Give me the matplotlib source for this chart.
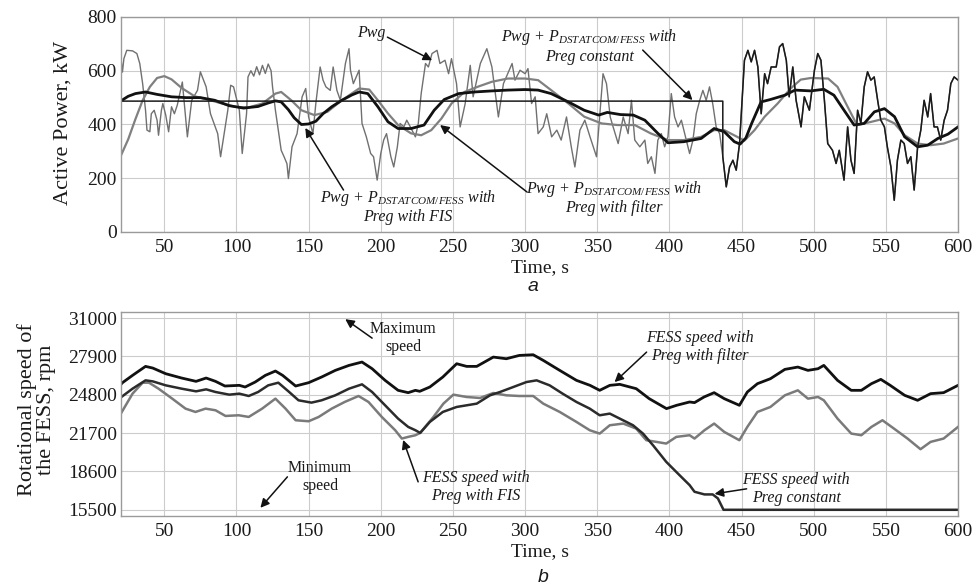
import numpy as np
import matplotlib
matplotlib.use("Agg")
import matplotlib.pyplot as plt

plt.rcParams['font.family'] = ['Liberation Serif', 'DejaVu Serif']
plt.rcParams['mathtext.fontset'] = 'custom'
plt.rcParams['mathtext.rm'] = 'Liberation Serif'
plt.rcParams['mathtext.it'] = 'Liberation Serif:italic'

# ---------------- data: panel a (active power, kW) ----------------
pwg_t = [20, 21, 22, 24, 28, 31, 33, 35, 37, 38, 40, 41, 43, 45, 46, 48, 49, 51, 53, 55, 57, 59,
         62.5, 66, 69, 73, 75, 79, 82, 87, 89, 91.5, 94, 96, 98, 102, 104, 107, 108, 110, 112, 114,
         116, 118, 120, 122, 124, 125, 127, 131, 133, 135, 136, 138.5, 142, 145.5, 148, 150, 153,
         155, 158, 160, 162, 165, 167, 169.6, 172, 175.5, 178, 179, 181, 185, 187, 190, 193, 195,
         197.5, 200, 202, 204, 207, 209, 211.5, 213.4, 216, 218, 220.5, 224, 226, 228, 231, 233,
         235.5, 239, 241, 244.5, 247, 249, 252.5, 255, 258.5, 262, 264, 269, 273.5, 277, 280,
         281.5, 285, 287, 291, 293, 296.5, 300, 302, 304.5, 307, 309, 312.6, 315, 318.4, 322, 325,
         328.7, 332, 334.5, 338, 341.4, 345, 349.5, 352, 354, 356.4, 359, 361, 364.5, 368, 371.4,
         373.7, 376, 379.5, 383, 385, 387.5, 390, 392, 394.4, 396.7, 399, 401.3, 403.6, 406, 408.3,
         410.6, 414, 416.3, 418.6, 421, 423.2, 425.5, 427.8, 430, 432.4, 434.8, 437, 439.4, 441.7,
         444, 446.3, 448.6, 452, 454.4, 456.7, 459, 461.3, 463.6, 466, 468, 470.5, 474, 476.3,
         478.5, 481, 483, 485.5, 487.8, 491.2, 493.5, 497, 500.5, 502.8, 505, 507.4, 509.7, 513,
         515.5, 517.7, 521, 523.5, 525.8, 528, 530.4, 532.7, 535, 537.3, 539.6, 541.9, 544.3,
         546.5, 549, 551, 553.5, 555.8, 558, 560.4, 562.7, 565, 567.3, 569.6, 572, 574.2, 576.5,
         579, 581, 583.4, 585.7, 588, 590.4, 592.7, 595, 597.3, 600]
pwg_p = [645, 595, 645, 676, 674, 664, 627, 552, 453, 379, 373, 440, 453, 416, 360, 453, 478, 435,
         373, 466, 440, 472, 558, 354, 490, 527, 596, 540, 440, 366, 280, 366, 453, 546, 540, 453,
         292, 440, 577, 600, 580, 615, 585, 620, 590, 625, 600, 540, 453, 304, 280, 254, 199, 317,
         366, 503, 534, 428, 366, 478, 614, 565, 540, 527, 614, 527, 490, 627, 682, 602, 552, 602,
         404, 354, 292, 280, 193, 292, 342, 366, 280, 242, 317, 404, 391, 416, 391, 354, 404, 515,
         627, 614, 664, 676, 627, 639, 589, 645, 552, 391, 478, 620, 503, 627, 682, 614, 490, 428,
         552, 577, 627, 565, 602, 589, 608, 478, 503, 366, 391, 440, 354, 379, 342, 428, 317, 242,
         379, 416, 354, 280, 453, 589, 552, 428, 391, 329, 428, 366, 490, 342, 317, 342, 255, 280,
         218, 342, 366, 317, 354, 515, 428, 391, 416, 366, 292, 342, 440, 490, 527, 490, 540, 478,
         391, 366, 280, 168, 242, 267, 230, 329, 639, 676, 633, 676, 614, 440, 589, 552, 614, 614,
         689, 701, 639, 503, 614, 490, 391, 503, 453, 602, 664, 639, 490, 329, 304, 255, 304, 193,
         391, 267, 218, 453, 404, 540, 596, 565, 577, 490, 416, 391, 317, 242, 118, 267, 342, 329,
         255, 280, 156, 317, 379, 490, 428, 515, 391, 391, 342, 416, 453, 552, 577, 565]

fis_t = [20, 25, 30, 37, 45, 55, 65, 75, 85, 95, 105, 115, 122, 127, 131, 136, 140, 145, 150, 155,
         160, 166, 173, 180, 185, 191, 198, 205, 212, 221, 230, 237, 244, 254, 265, 277, 288, 300,
         309, 318, 330, 341, 351, 357, 366, 375, 383, 392, 399, 410, 422, 431, 438, 445, 449, 453,
         457, 463.5, 470, 480, 487, 498, 507, 514, 521, 528, 535, 542, 549, 556, 563, 572, 579,
         586, 593, 600]
fis_p = [488, 505, 515, 521, 512, 503, 500, 500, 490, 470, 461, 467, 480, 488, 484, 455, 425, 400,
         402, 412, 440, 466, 490, 510, 521, 515, 466, 410, 385, 385, 398, 453, 493, 515, 521, 525,
         528, 530, 528, 515, 484, 453, 435, 445, 437, 435, 416, 367, 332, 336, 348, 385, 373, 336,
         327, 350, 404, 484, 493, 509, 528, 525, 531, 509, 453, 398, 404, 447, 459, 429, 354, 317,
         323, 348, 364, 391]

filt_t = [20, 25, 30, 35, 40, 45, 50, 55, 62, 71, 80, 90, 99, 108, 118, 127, 131, 138, 145, 154,
          163, 173, 185, 192, 198, 205, 212, 221, 228, 235, 242, 249, 258, 268, 277, 288, 300, 309,
          318, 330, 341, 353, 364, 376, 387, 399, 410, 422, 431, 438, 447, 452, 459, 466, 475, 484,
          491, 498, 510, 516.5, 523.5, 530, 540, 549, 556, 563, 572, 581, 590, 600]
filt_p = [285, 345, 420, 490, 540, 573, 580, 568, 536, 505, 493, 478, 466, 463, 478, 515, 521, 490,
          453, 435, 447, 490, 534, 530, 490, 441, 398, 367, 360, 379, 422, 478, 521, 542, 559, 571,
          571, 565, 528, 478, 429, 404, 398, 398, 367, 342, 342, 354, 379, 379, 354, 340, 379, 429,
          478, 534, 567, 573, 571, 540, 466, 398, 410, 422, 404, 360, 329, 323, 329, 348]

preg_const = 487          # kW, constant reference
const_end = 437           # s, FESS reaches minimum speed

# ---------------- data: panel b (FESS speed, rpm) ----------------
sfilt_t = [20, 21, 28, 37, 42, 51, 62, 72, 79, 85.5, 92, 102, 106, 113, 120, 127, 132, 141, 150,
           159, 168.5, 178, 187, 194, 203, 212, 219, 224, 227, 234, 243, 252.6, 259.5, 266.5, 278,
           287, 296, 305.6, 312.6, 324, 335.6, 345, 351.7, 358.7, 365.6, 377, 386, 398, 405, 414,
           417.4, 424, 431, 438, 448.5, 454, 461, 470, 480, 489, 496, 503, 507, 516.5, 526, 533,
           540, 546.5, 553, 563, 572, 581, 590, 600]
sfilt_v = [25650, 25781, 26373, 27100, 26965, 26507, 26158, 25889, 26158, 25889, 25512, 25566,
           25431, 25835, 26373, 26723, 26373, 25512, 25781, 26239, 26777, 27180, 27451, 26912,
           25970, 25163, 24974, 25163, 25082, 25431, 26239, 27315, 27100, 27100, 27853, 27718,
           27987, 28041, 27584, 26777, 25970, 25566, 25163, 25566, 25647, 25297, 24490, 23683,
           23952, 24221, 24168, 24625, 24974, 24490, 23952, 25028, 25701, 26104, 26857, 27046,
           26777, 26912, 27180, 25970, 25163, 25163, 25701, 26050, 25566, 24759, 24356, 24894,
           24974, 25566]

sconst_t = [20, 28, 37, 42, 51, 62, 72, 79, 85.5, 95, 102, 108.5, 115, 122, 129, 136, 143, 152,
            159, 168.5, 178, 187, 194, 203, 212, 219, 224, 227.3, 234, 243, 252.6, 266.5, 275.7,
            282.6, 291.8, 301, 308, 317, 326, 335.6, 344.8, 351.7, 358.7, 365.6, 374.8, 381.7,
            388.6, 397.8, 407, 414, 417.4, 424.3, 430, 433.6, 437.5, 600]
sconst_v = [24600, 25297, 25970, 25889, 25566, 25297, 25082, 25243, 25028, 24813, 24894, 24705,
            25028, 25566, 25781, 25082, 24356, 24168, 24356, 24759, 25297, 25647, 25028, 23952,
            22876, 22204, 21935, 21719, 22607, 23414, 23818, 24087, 24759, 25028, 25431, 25835,
            25970, 25566, 24894, 24221, 23683, 23145, 23280, 22876, 22338, 21665, 20724, 19379,
            18303, 17496, 16958, 16743, 16743, 16420, 15500, 15500]

sfis_t = [20, 28, 35, 39.4, 46, 55.5, 64.7, 71.6, 78.6, 85.5, 92.4, 101.6, 108.5, 117.8, 127, 134,
          141, 150, 157, 166, 175, 184.6, 191.5, 200.7, 210, 214.6, 219, 224, 227.3, 236.5, 243.4,
          250.3, 259.5, 268.8, 278, 287, 296, 305.6, 312.6, 324, 335.6, 344.8, 351.7, 358.7, 368,
          377, 384, 391, 397.8, 404.8, 414, 417.4, 424.3, 431, 438, 448.5, 454, 461, 470, 480, 489,
          496, 503, 507, 516.5, 526, 533, 540, 547.6, 555.6, 565, 574, 581, 590, 600]
sfis_v = [23300, 24894, 25781, 25781, 25297, 24490, 23683, 23414, 23683, 23549, 23091, 23145,
          23011, 23683, 24490, 23683, 22742, 22661, 23011, 23683, 24221, 24705, 24221, 23011,
          21935, 21262, 21397, 21531, 21719, 23011, 24087, 24813, 24625, 24544, 24948, 24759,
          24705, 24705, 24087, 23414, 22607, 21935, 21665, 22338, 22473, 22069, 21127, 20993,
          20858, 21397, 21531, 21262, 21935, 22473, 21800, 21127, 22204, 23414, 23818, 24759,
          25163, 24490, 24625, 24356, 22876, 21665, 21531, 22204, 22742, 22069, 21262, 20401,
          20993, 21262, 22204]

time_ticks = [50, 100, 150, 200, 250, 300, 350, 400, 450, 500, 550, 600]
power_ticks = [0, 200, 400, 600, 800]
speed_ticks = [15500, 18600, 21700, 24800, 27900, 31000]

# ---------------- figure ----------------
fig = plt.figure(figsize=(9.75, 5.86), dpi=100)
ax1 = fig.add_axes([0.1241, 0.6041, 0.8585, 0.3669])
ax2 = fig.add_axes([0.1241, 0.1195, 0.8585, 0.3481])

TXT = '#1a1a1a'
for ax in (ax1, ax2):
    ax.set_xlim(20, 600)
    ax.set_xticks(time_ticks)
    ax.grid(True, color='#cccccc', lw=0.8)
    ax.set_axisbelow(True)
    for s in ax.spines.values():
        s.set_color('#9a9a9a')
        s.set_linewidth(1.0)
    ax.tick_params(length=0, labelsize=14, colors=TXT)
    ax.tick_params(axis='x', pad=5)
    ax.tick_params(axis='y', pad=3)

# panel a
pwg_t_a = np.array(pwg_t)
pwg_p_a = np.array(pwg_p)
ax1.plot(pwg_t_a, pwg_p_a, color='#707070', lw=1.0)
ax1.plot(filt_t, filt_p, color='#808080', lw=1.6)
ax1.plot(fis_t, fis_p, color='#111111', lw=2.0)
mask = pwg_t_a >= const_end
ct = np.concatenate([[20, const_end], pwg_t_a[mask]])
cp = np.concatenate([[preg_const, preg_const], pwg_p_a[mask]])
ax1.plot(ct, cp, color='#1a1a1a', lw=1.1)
ax1.set_ylim(0, 800)
ax1.set_yticks(power_ticks)
ax1.set_ylabel('Active Power, kW', fontsize=16, color=TXT)
ax1.yaxis.set_label_coords(-0.058, 0.505)
ax1.set_xlabel('Time, s', fontsize=14, color=TXT)
ax1.xaxis.set_label_coords(0.5, -0.125)

arrow = dict(arrowstyle='-|>', color='#111111', lw=1.1, mutation_scale=13, shrinkA=0, shrinkB=0)
ann = dict(fontsize=11.5, style='italic', color=TXT, ha='center', va='center', linespacing=1.15)

ax1.text(193.4, 740, 'Pwg', **ann)
ax1.annotate('', xy=(235.6, 639), xytext=(204.6, 725), arrowprops=arrow)
ax1.text(219, 95, 'Pwg + $P_{DSTATCOM/FESS}$ with\nPreg with FIS', **ann)
ax1.annotate('', xy=(147.7, 387), xytext=(174.2, 156), arrowprops=arrow)
ax1.text(361.4, 128, 'Pwg + $P_{DSTATCOM/FESS}$ with\nPreg with filter', **ann)
ax1.annotate('', xy=(241.1, 398), xytext=(301.3, 149), arrowprops=arrow)
ax1.text(344.7, 693, 'Pwg + $P_{DSTATCOM/FESS}$ with\nPreg constant', **ann)
ax1.annotate('', xy=(416, 491), xytext=(381.5, 677), arrowprops=arrow)

# panel b
ax2.plot(sfis_t, sfis_v, color='#7a7a7a', lw=1.8)
ax2.plot(sconst_t, sconst_v, color='#2b2b2b', lw=1.8)
ax2.plot(sfilt_t, sfilt_v, color='#111111', lw=2.0)
ax2.set_ylim(15000, 31500)
ax2.set_yticks(speed_ticks)
ax2.set_ylabel('Rotational speed of\nthe FESS, rpm', fontsize=16, color=TXT, linespacing=1.0)
ax2.yaxis.set_label_coords(-0.078, 0.52)
ax2.set_xlabel('Time, s', fontsize=14, color=TXT)
ax2.xaxis.set_label_coords(0.5, -0.135)

plain = dict(fontsize=11.5, color=TXT, ha='center', va='center', linespacing=1.15)
ax2.text(215.5, 29426, 'Maximum\nspeed', **plain)
ax2.annotate('', xy=(175.4, 30920), xytext=(194, 29385), arrowprops=arrow)
ax2.text(158, 18124, 'Minimum\nspeed', **plain)
ax2.annotate('', xy=(116.6, 15661), xytext=(135.3, 18164), arrowprops=arrow)
ax2.text(266, 17316, 'FESS speed with\nPreg with FIS', **ann)
ax2.annotate('', xy=(215.5, 21151), xytext=(225.9, 17760), arrowprops=arrow)
ax2.text(420.8, 28699, 'FESS speed with\nPreg with filter', **ann)
ax2.annotate('', xy=(362, 25833), xytext=(384.2, 28255), arrowprops=arrow)
ax2.text(488, 17155, 'FESS speed with\nPreg constant', **ann)
ax2.annotate('', xy=(431.3, 16792), xytext=(453.5, 17195), arrowprops=arrow)

fig.text(0.547, 0.511, 'a', fontsize=14, style='italic', family='Liberation Sans',
         ha='center', va='center', color=TXT)
fig.text(0.557, 0.014, 'b', fontsize=14, style='italic', family='Liberation Sans',
         ha='center', va='center', color=TXT)

fig.savefig('out.png', dpi=100, facecolor='white')
